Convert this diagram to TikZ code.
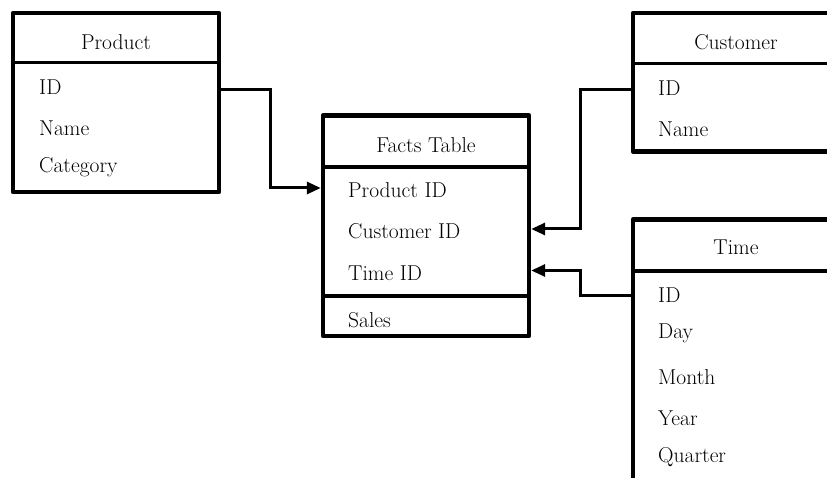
\documentclass[tikz,border=0pt]{standalone}
\usetikzlibrary{arrows.meta}
\begin{document}
\begin{tikzpicture}[x=1pt,y=-1pt,
  tbl/.style={draw, line width=4.4pt, line join=round, inner sep=0pt, rectangle},
  div/.style={line width=3.3pt},
  ttl/.style={anchor=base, inner sep=0pt, font=\fontsize{21.5}{26}\selectfont},
  fld/.style={anchor=base west, inner sep=0pt, font=\fontsize{21.5}{26}\selectfont},
  conn/.style={line width=3pt, -{Triangle[length=14pt,width=12pt]}}]
\useasboundingbox (0,0) rectangle (827,478);
\clip (0,0) rectangle (827,478);
% Product
\node[tbl, minimum width=206pt, minimum height=179pt] (prod) at (116,102.5) {};
\draw[div] (prod.west |- {(0,62.5)}) -- (prod.east |- {(0,62.5)});
\node[ttl] (prodt) at (116,50) {Product};
\node[fld] (pid) at (39,95) {ID};
\node[fld] (pname) at (39,136) {Name};
\node[fld] (pcat) at (39,173) {Category};
% Facts
\node[tbl, minimum width=206pt, minimum height=220.5pt] (facts) at (426,225.75) {};
\draw[div] (facts.west |- {(0,167)}) -- (facts.east |- {(0,167)});
\draw[div] (facts.west |- {(0,296)}) -- (facts.east |- {(0,296)});
\node[ttl] (factst) at (426,153) {Facts Table};
\node[fld] (fpid) at (348,198) {Product ID};
\node[fld] (fcid) at (348,239) {Customer ID};
\node[fld] (ftid) at (348,280) {Time ID};
\node[fld] (fsales) at (348,327) {Sales};
% Customer
\node[tbl, minimum width=206pt, minimum height=138.5pt] (cust) at (736,82.25) {};
\draw[div] (cust.west |- {(0,63.5)}) -- (cust.east |- {(0,63.5)});
\node[ttl] (custt) at (736,50) {Customer};
\node[fld] (cid) at (658,96) {ID};
\node[fld] (cname) at (658,137) {Name};
% Time
\node[tbl, minimum width=206pt, minimum height=340.5pt] (time) at (736,389.75) {};
\draw[div] (time.west |- {(0,271)}) -- (time.east |- {(0,271)});
\node[ttl] (timet) at (736,255) {Time};
\node[fld] (tid) at (658,302) {ID};
\node[fld] (tday) at (658,338) {Day};
\node[fld] (tmonth) at (658,384) {Month};
\node[fld] (tyear) at (658,425) {Year};
\node[fld] (tquarter) at (658,462) {Quarter};
% Connectors
\coordinate (c1s) at (prod.east |- {(0,89.5)});
\coordinate (c1e) at (facts.west |- {(0,188)});
\draw[conn] (c1s) -| (270.5,138) |- (c1e);
\coordinate (c2s) at (cust.west |- {(0,89.5)});
\coordinate (c2e) at (facts.east |- {(0,229)});
\draw[conn] (c2s) -| (580.5,160) |- (c2e);
\coordinate (c3s) at (time.west |- {(0,295.5)});
\coordinate (c3e) at (facts.east |- {(0,270.5)});
\draw[conn] (c3s) -| (580.5,283) |- (c3e);
\end{tikzpicture}
\end{document}
